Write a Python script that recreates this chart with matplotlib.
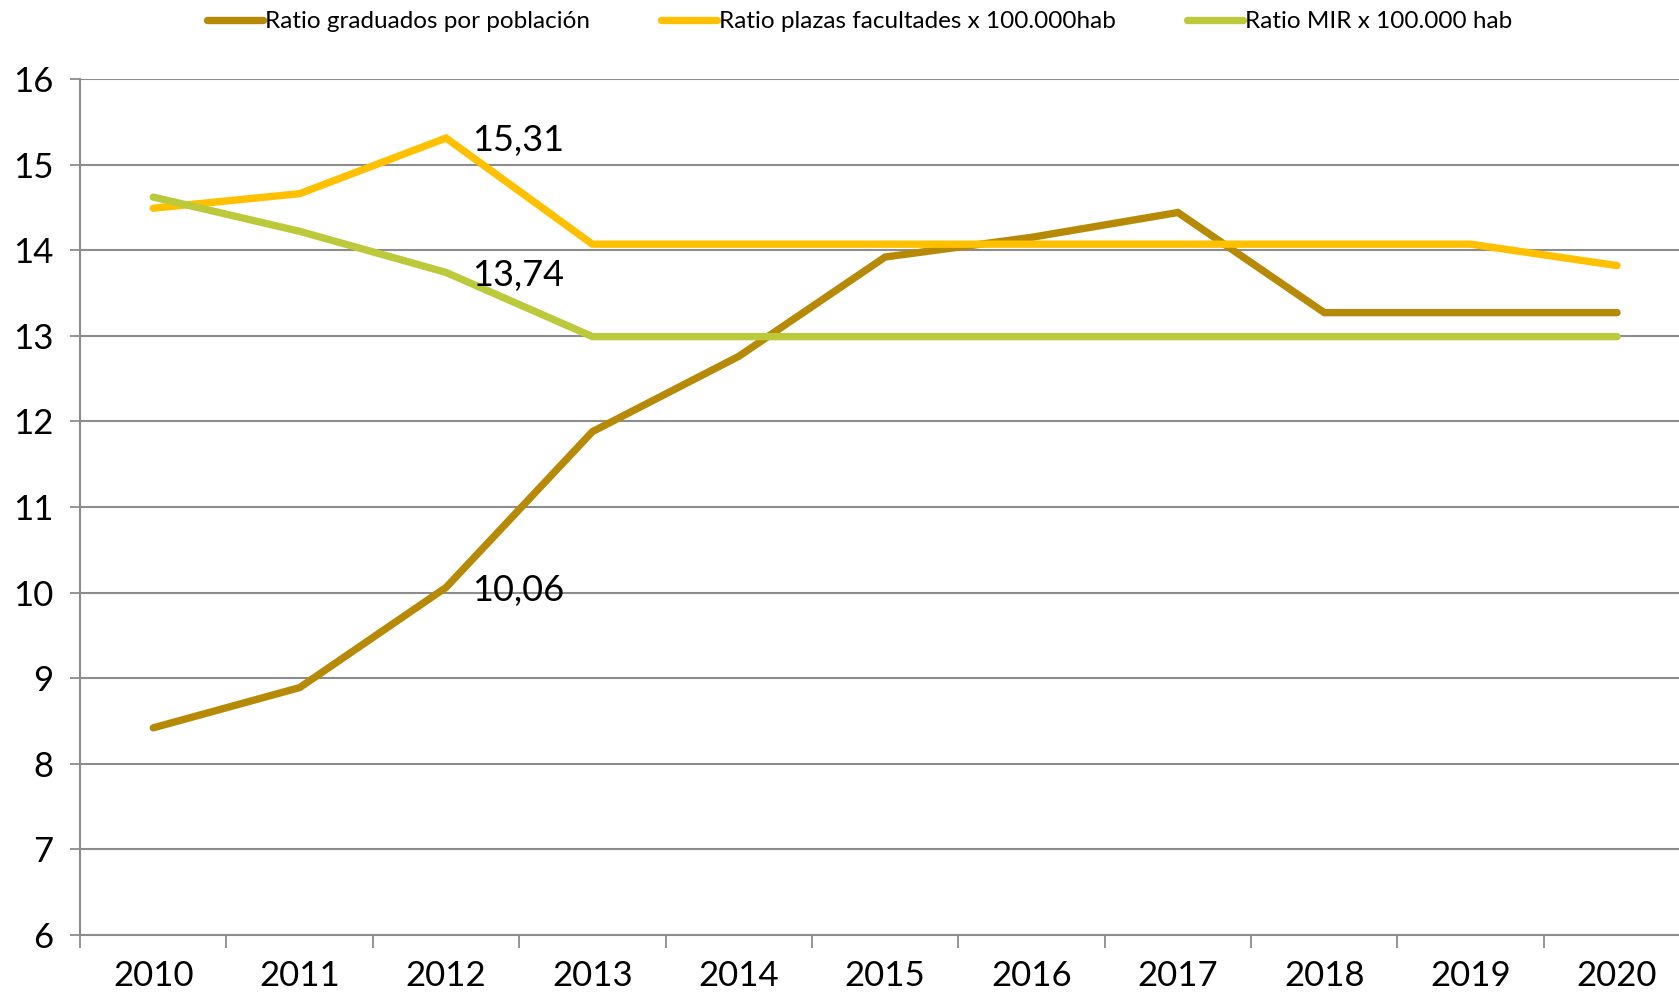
import matplotlib.pyplot as plt

# datos
years = [2010, 2011, 2012, 2013, 2014, 2015, 2016, 2017, 2018, 2019, 2020]
graduados = [8.42, 8.89, 10.06, 11.88, 12.76, 13.92, 14.15, 14.44, 13.27, 13.27, 13.27]
plazas = [14.49, 14.66, 15.31, 14.07, 14.07, 14.07, 14.07, 14.07, 14.07, 14.07, 13.82]
mir = [14.62, 14.22, 13.74, 12.99, 12.99, 12.99, 12.99, 12.99, 12.99, 12.99, 12.99]

labels = ["Ratio graduados por población",
          "Ratio plazas facultades x 100.000hab",
          "Ratio MIR x 100.000 hab"]
colors = ["#B68A06", "#FFC000", "#BCC93A"]

# etiquetas de 2012
etiquetas = [(2012, plazas[2]), (2012, mir[2]), (2012, graduados[2])]

plt.rcParams['font.family'] = ['Lato', 'DejaVu Sans']

fig = plt.figure(figsize=(16.79, 9.97), dpi=100)
ax = fig.add_axes([0.0477, 0.0622, 0.959, 0.8586])

for serie, lab, col in zip([graduados, plazas, mir], labels, colors):
    ax.plot(years, serie, color=col, lw=5.3, label=lab,
            solid_capstyle='round', solid_joinstyle='miter')

for x, y in etiquetas:
    ax.annotate(f"{y:.2f}".replace(".", ","), (x, y), xytext=(19, -2),
                textcoords='offset points', ha='left', va='center', fontsize=26)

ax.set_xlim(2009.5, 2020.5)
ax.set_ylim(6, 16)
ax.set_yticks(range(6, 17))
ax.set_xticks(years)
ax.set_xticks([y + 0.5 for y in [2009] + years], minor=True)
ax.tick_params(axis='x', which='major', length=0, labelsize=25, pad=18)
ax.tick_params(axis='x', which='minor', length=9, width=1.3, color='#8C8C8C')
ax.tick_params(axis='y', length=7, width=1.3, color='#8C8C8C', labelsize=25, pad=12)

ax.grid(axis='y', color='#8C8C8C', lw=1.5)
ax.set_axisbelow(True)
for s in ['top', 'right']:
    ax.spines[s].set_visible(False)
ax.spines['left'].set_color('#8C8C8C')
ax.spines['left'].set_linewidth(1.5)
ax.spines['bottom'].set_color('#8C8C8C')
ax.spines['bottom'].set_linewidth(1.5)

fig.legend(loc='center', bbox_to_anchor=(0.512, 0.978), ncol=3, frameon=False,
           fontsize=17.5, handlelength=2.3, handletextpad=0.1, columnspacing=2.9)

fig.savefig("out.png", dpi=100)
